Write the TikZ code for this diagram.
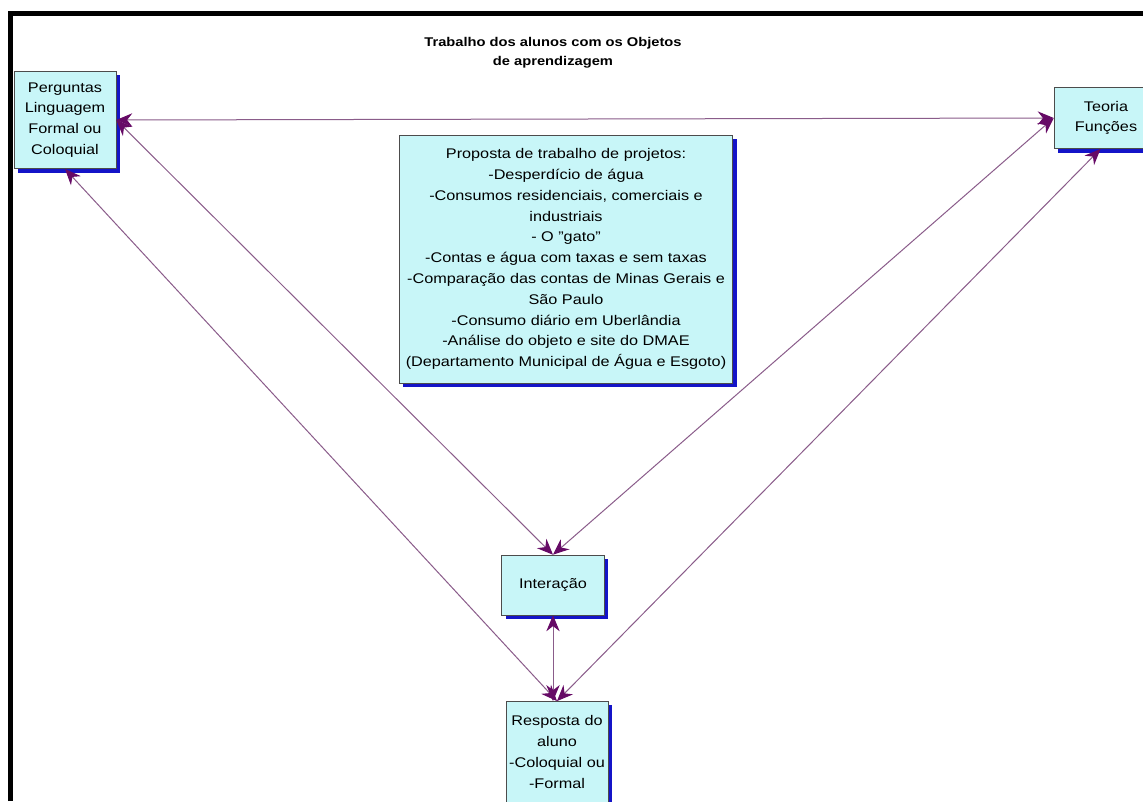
\documentclass[tikz,border=0pt]{standalone}
\usepackage{fontspec}
\setmainfont{Liberation Sans}[FakeStretch=1.16]
\usetikzlibrary{arrows.meta,shadows}
\definecolor{caixafundo}{HTML}{C8F6F8}
\definecolor{sombra}{HTML}{1414C8}
\definecolor{linha}{HTML}{8A5C8A}
\definecolor{seta}{HTML}{660A66}
\tikzset{
  caixa/.style={draw=black!70, fill=caixafundo, align=center, inner sep=1pt,
    font=\fontsize{10.5}{15.6}\selectfont,
    drop shadow={shadow xshift=3pt, shadow yshift=-3pt, fill=sombra, opacity=1}},
  ligacao/.style={<->, draw=linha, line width=0.75pt}
}
\begin{document}
\begin{tikzpicture}[x=0.75pt, y=-0.75pt, >={Stealth[length=12pt,width=10pt,color=seta]}]
        \useasboundingbox (0,0) rectangle (1143,801);
        \fill[white] (0,0) rectangle (1143,801);
        \draw[line width=3.75pt] (10.5,801) -- (10.5,13.5) -- (1143,13.5);

        \node[font=\bfseries\fontsize{9.5}{14.5}\selectfont, align=center] (titulo) at (553,53)
            {Trabalho dos alunos com os Objetos\\de aprendizagem};

        \node[caixa, minimum width=76.5pt, minimum height=73pt] (perguntas) at (65,120)
            {Perguntas\\Linguagem\\Formal ou\\Coloquial};
        \node[caixa, minimum width=78pt, minimum height=46pt] (teoria) at (1106,118)
            {Teoria\\Funções};
        \node[caixa, minimum width=250pt, minimum height=186pt] (proposta) at (566,259)
            {Proposta de trabalho de projetos:\\
             -Desperdício de água\\
             -Consumos residenciais, comerciais e\\
             industriais\\
             - O "gato"\\
             -Contas e água com taxas e sem taxas\\
             -Comparação das contas de Minas Gerais e\\
             São Paulo\\
             -Consumo diário em Uberlândia\\
             -Análise do objeto e site do DMAE\\
             (Departamento Municipal de Água e Esgoto)};
        \node[caixa, minimum width=77pt, minimum height=45pt] (interacao) at (553,585)
            {Interação};
        \node[caixa, minimum width=76.5pt, minimum height=76pt] (resposta) at (557,752)
            {Resposta do\\aluno\\-Coloquial ou\\-Formal};

        \draw[ligacao] (perguntas.east) -- (teoria.west);
        \draw[ligacao] (perguntas.east) -- (interacao.north);
        \draw[ligacao] (perguntas.south) -- (resposta.north);
        \draw[ligacao] (teoria.west) -- (interacao.north);
        \draw[ligacao] (teoria.-100) -- (resposta.north);
        \draw[ligacao] (interacao.south) -- (interacao.south |- resposta.north);
\end{tikzpicture}
\end{document}
